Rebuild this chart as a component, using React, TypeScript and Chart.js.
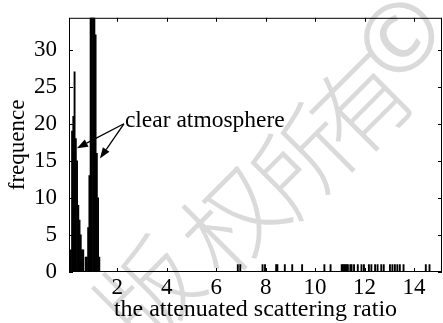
import React, { useEffect, useRef } from 'react';
import { Chart, registerables } from 'chart.js';

Chart.register(...registerables);

// ---- data ----
const xTickValues = [2, 4, 6, 8, 10, 12, 14];
const yTickValues = [0, 5, 10, 15, 20, 25, 30];

const leftClusterBins = [0.075, 0.125, 0.175, 0.225, 0.275, 0.325, 0.375, 0.425, 0.475, 0.525, 0.575, 0.625];
const leftClusterCounts = [2, 3, 19, 21, 27, 18, 15, 9, 7, 5, 3, 3];

const rightClusterBins = [0.725, 0.775, 0.825, 0.875, 0.925, 0.975, 1.025, 1.075, 1.125, 1.175, 1.225, 1.275];
const rightClusterCounts = [2, 2, 6, 13, 36, 38, 37, 36, 32, 16, 10, 2];

const sparseBins = [
  6.875, 6.975, 7.875, 7.975, 8.425, 8.475, 8.775, 9.075, 9.475, 10.375, 10.625,
  11.075, 11.125, 11.175, 11.225, 11.275, 11.325, 11.425, 11.475, 11.575, 11.725,
  11.875, 11.975, 12.175, 12.275, 12.425, 12.525, 12.675, 12.775, 13.025, 13.125,
  13.225, 13.325, 13.425, 13.575, 14.475, 14.625,
];
const sparseCounts = sparseBins.map(() => 1);

const xLabel = 'the attenuated scattering ratio';
const yLabel = 'frequence';
const annotationText = 'clear atmosphere';
const annotationAnchor = { x: 2.27, y: 20.0 };
const annotationTargets = [
  { x: 0.37, y: 16.7 },
  { x: 1.3, y: 15.3 },
];
const watermarkChars = ['版', '权', '所', '有', '©'];

const SERIF = "'Liberation Serif', 'Times New Roman', serif";

function drawArrow(ctx: CanvasRenderingContext2D, x0: number, y0: number, x1: number, y1: number) {
  const ang = Math.atan2(y1 - y0, x1 - x0);
  const len = 11;
  const half = 4;
  const bx = x1 - len * Math.cos(ang);
  const by = y1 - len * Math.sin(ang);
  ctx.beginPath();
  ctx.moveTo(x0, y0);
  ctx.lineTo(bx, by);
  ctx.stroke();
  ctx.beginPath();
  ctx.moveTo(x1, y1);
  ctx.lineTo(bx + half * Math.sin(ang), by - half * Math.cos(ang));
  ctx.lineTo(bx - half * Math.sin(ang), by + half * Math.cos(ang));
  ctx.closePath();
  ctx.fill();
}

const framePlugin = {
  id: 'framePlugin',
  beforeDraw(chart: any) {
    const { ctx } = chart;
    ctx.save();
    ctx.fillStyle = '#dadada';
    ctx.textAlign = 'center';
    ctx.textBaseline = 'middle';
    const centers = [
      [148, 292],
      [232, 220],
      [302, 160],
      [361, 104],
      [404, 42],
    ];
    watermarkChars.forEach((c, i) => {
      ctx.save();
      ctx.font = i === 4 ? "94px 'Noto Sans', sans-serif" : "300 98px 'Noto Sans CJK SC', sans-serif";
      ctx.translate(centers[i][0], centers[i][1]);
      ctx.rotate(-Math.PI / 4.0);
      ctx.fillText(c, 0, 0);
      ctx.restore();
    });
    ctx.restore();
  },
  afterDatasetsDraw(chart: any) {
    const { ctx, chartArea: a, scales } = chart;
    const x = scales.x;
    const y = scales.y;
    ctx.save();
    ctx.strokeStyle = '#000';
    ctx.fillStyle = '#000';
    ctx.lineWidth = 1;
    ctx.strokeRect(a.left + 0.5, a.top + 0.5, a.right - a.left - 1, a.bottom - a.top - 1);
    const tl = 4;
    ctx.beginPath();
    xTickValues.forEach((v) => {
      const px = Math.round(x.getPixelForValue(v)) + 0.5;
      ctx.moveTo(px, a.bottom);
      ctx.lineTo(px, a.bottom - tl);
      ctx.moveTo(px, a.top);
      ctx.lineTo(px, a.top + tl);
    });
    yTickValues.forEach((v) => {
      const py = Math.round(y.getPixelForValue(v)) + 0.5;
      ctx.moveTo(a.left, py);
      ctx.lineTo(a.left + tl, py);
      ctx.moveTo(a.right, py);
      ctx.lineTo(a.right - tl, py);
    });
    ctx.stroke();

    // annotation
    const ax = x.getPixelForValue(annotationAnchor.x);
    const ay = y.getPixelForValue(annotationAnchor.y);
    ctx.lineWidth = 1.3;
    annotationTargets.forEach((t) => {
      drawArrow(ctx, ax, ay, x.getPixelForValue(t.x), y.getPixelForValue(t.y));
    });
    ctx.font = `23.5px ${SERIF}`;
    ctx.textAlign = 'left';
    ctx.textBaseline = 'middle';
    ctx.fillText(annotationText, ax + 1, ay - 3);
    ctx.restore();
  },
};

export default function App() {
  const ref = useRef<HTMLCanvasElement | null>(null);
  useEffect(() => {
    if (!ref.current) return;
    const points = [
      ...leftClusterBins.map((b, i) => ({ x: b, y: leftClusterCounts[i] })),
      ...rightClusterBins.map((b, i) => ({ x: b, y: rightClusterCounts[i] })),
      ...sparseBins.map((b, i) => ({ x: b, y: sparseCounts[i] })),
    ];
    const chart = new Chart(ref.current, {
      type: 'bar',
      data: {
        datasets: [
          {
            data: points as any,
            backgroundColor: '#000',
            borderWidth: 0,
            barPercentage: 1,
            categoryPercentage: 1,
          },
        ],
      },
      options: {
        animation: false,
        responsive: false,
        events: [],
        layout: { padding: { top: 9, right: 1, left: 0, bottom: 0 } },
        plugins: { legend: { display: false }, tooltip: { enabled: false } },
        scales: {
          x: {
            type: 'linear',
            min: 0.05,
            max: 15.13,
            offset: false,
            grid: { display: false },
            border: { display: false },
            afterBuildTicks: (s: any) => {
              s.ticks = xTickValues.map((v) => ({ value: v }));
            },
            afterFit: (s: any) => {
              s.height = 51;
            },
            ticks: {
              color: '#000',
              padding: -6,
              maxRotation: 0,
              autoSkip: false,
              font: { family: SERIF, size: 23 },
            },
            title: {
              display: true,
              text: xLabel,
              color: '#000',
              padding: { top: 0, bottom: -1 },
              font: { family: SERIF, size: 24 },
            },
          },
          y: {
            type: 'linear',
            min: 0,
            max: 34.3,
            grid: { display: false },
            border: { display: false },
            afterBuildTicks: (s: any) => {
              s.ticks = yTickValues.map((v) => ({ value: v }));
            },
            afterFit: (s: any) => {
              s.width = 69;
            },
            ticks: {
              color: '#000',
              padding: 4,
              autoSkip: false,
              font: { family: SERIF, size: 23 },
            },
            title: {
              display: true,
              text: yLabel,
              color: '#000',
              padding: { top: 4, bottom: 0 },
              font: { family: SERIF, size: 23 },
            },
          },
        },
      },
      plugins: [framePlugin],
    });
    return () => chart.destroy();
  }, []);
  return (
    <div style={{ position: 'fixed', left: 0, top: 0, width: 443, height: 323, background: '#fff' }}>
      <canvas ref={ref} width={443} height={323} style={{ display: 'block' }} />
    </div>
  );
}
